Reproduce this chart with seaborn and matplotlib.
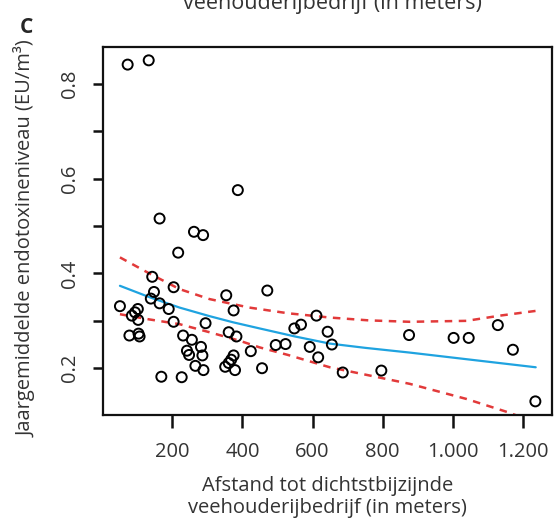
import numpy as np
import pandas as pd
import matplotlib
matplotlib.use("Agg")
import matplotlib.pyplot as plt
import seaborn as sns

# measured points: distance to nearest livestock farm (m) vs yearly mean endotoxin level
afstand = [51, 73, 133, 164, 387, 262, 288, 217, 143, 204, 148, 139, 164, 190,
           102, 94, 85, 103, 204, 78, 104, 107, 295, 354, 375, 471, 231, 256,
           282, 242, 248, 286, 266, 289, 169, 227, 361, 383, 375, 368, 361, 351,
           379, 424, 456, 495, 523, 548, 567, 611, 592, 616, 643, 655, 686, 796,
           875, 1002, 1045, 1128, 1171, 1235]
endotoxine = [0.331, 0.841, 0.850, 0.516, 0.576, 0.488, 0.481, 0.444, 0.393, 0.371,
              0.361, 0.347, 0.337, 0.325, 0.325, 0.318, 0.311, 0.302, 0.298, 0.269,
              0.273, 0.267, 0.295, 0.354, 0.322, 0.364, 0.269, 0.260, 0.245, 0.237,
              0.228, 0.227, 0.205, 0.196, 0.182, 0.181, 0.276, 0.267, 0.227, 0.218,
              0.211, 0.203, 0.196, 0.236, 0.200, 0.249, 0.251, 0.284, 0.292, 0.311,
              0.245, 0.223, 0.277, 0.250, 0.191, 0.195, 0.270, 0.264, 0.264, 0.291,
              0.239, 0.130]

# fitted curve and confidence band
fit_x = [51, 135, 221, 306, 373, 449, 550, 649, 750, 877, 1039, 1236]
fit_y = [0.374, 0.350, 0.328, 0.310, 0.297, 0.284, 0.267, 0.252, 0.243, 0.233, 0.219, 0.202]
upper_x = [51, 135, 221, 306, 420, 530, 649, 760, 877, 1039, 1134, 1236]
upper_y = [0.434, 0.400, 0.367, 0.346, 0.328, 0.316, 0.307, 0.301, 0.298, 0.300, 0.311, 0.321]
lower_x = [51, 135, 221, 306, 392, 449, 530, 649, 760, 877, 1039, 1157, 1236]
lower_y = [0.314, 0.303, 0.293, 0.276, 0.258, 0.244, 0.228, 0.202, 0.185, 0.167, 0.135, 0.107, 0.085]

xticks = [200, 400, 600, 800, 1000, 1200]
xtick_labels = ["200", "400", "600", "800", "1.000", "1.200"]
yticks = [0.2, 0.3, 0.4, 0.5, 0.6, 0.7, 0.8]
ytick_labels = ["0.2", "", "0.4", "", "0.6", "", "0.8"]

sns.set_style("white")
plt.rcParams['font.family'] = ['Open Sans', 'DejaVu Sans']

blauw = "#1fa3e0"
rood = "#e23a3a"
fs = 14.5

fig = plt.figure(figsize=(5.57, 5.2), dpi=100)
ax = fig.add_axes([0.1855, 0.2019, 0.8055, 0.7083])

sns.lineplot(x=upper_x, y=upper_y, ax=ax, color=rood, lw=1.8, zorder=2)
sns.lineplot(x=lower_x, y=lower_y, ax=ax, color=rood, lw=1.8, zorder=2)
ax.lines[0].set_linestyle((0, (3, 2.6)))
ax.lines[1].set_linestyle((0, (3, 2.6)))
sns.lineplot(x=fit_x, y=fit_y, ax=ax, color=blauw, lw=1.6, zorder=3)
sns.scatterplot(x=afstand, y=endotoxine, ax=ax, s=52, facecolors="none",
                edgecolor="black", linewidth=1.4, zorder=4)

# R-style axis range: data range plus 4 %
xr = max(afstand) - min(afstand)
yr = max(endotoxine) - min(endotoxine)
ax.set_xlim(min(afstand) - 0.04 * xr, max(afstand) + 0.04 * xr)
ax.set_ylim(min(endotoxine) - 0.04 * yr, max(endotoxine) + 0.04 * yr)

ax.set_xticks(xticks)
ax.set_xticklabels(xtick_labels)
ax.set_yticks(yticks)
ax.set_yticklabels(ytick_labels, rotation=90, va="center")

for s in ax.spines.values():
    s.set_visible(True)
    s.set_linewidth(1.6)
    s.set_color("#111111")

ax.tick_params(axis="both", which="major", direction="out", width=1.8,
               bottom=True, left=True, labelsize=fs, color="#111111",
               labelcolor="#333333")
ax.tick_params(axis="x", length=9.5, pad=10)
ax.tick_params(axis="y", length=7.5, pad=9)

ax.set_xlabel("Afstand tot dichtstbijzijnde\nveehouderijbedrijf (in meters)",
              fontsize=fs, linespacing=1.15, labelpad=10, color="#333333")
ax.set_ylabel("Jaargemiddelde endotoxineniveau (EU/m³)", fontsize=fs,
              labelpad=17, y=0.478, color="#333333")

fig.text(0.048, 0.948, "C", fontsize=15, fontweight="bold", ha="center", va="center")
# bottom of the caption of the panel above, cut off by the crop
fig.text(0.596, 0.9827, "veehouderijbedrijf (in meters)", fontsize=15.5,
         ha="center", va="baseline", color="#333333")

fig.savefig("out.png", dpi=100)
